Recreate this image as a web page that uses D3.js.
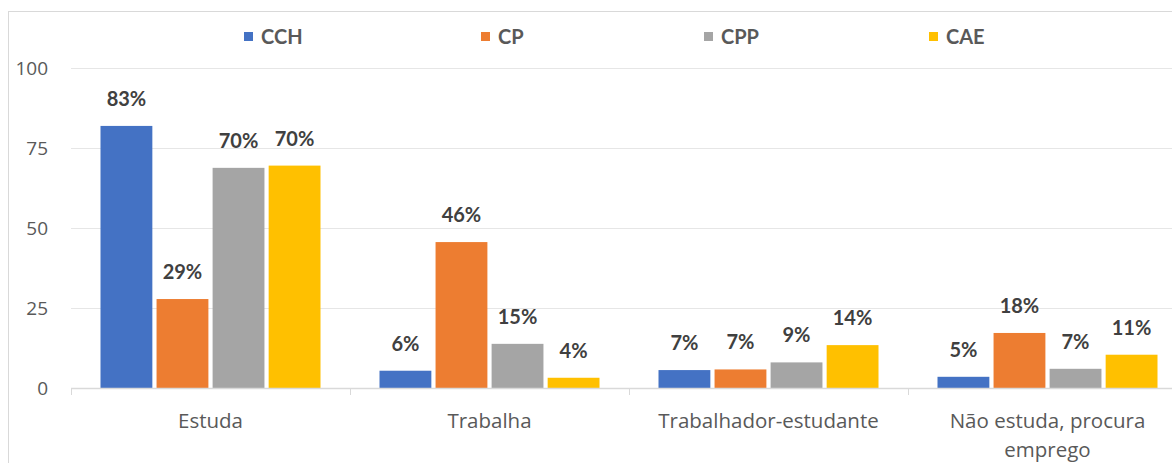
<!DOCTYPE html>
<html lang="pt">
<head>
<meta charset="UTF-8">
<title>Situação</title>
<script src="https://cdn.jsdelivr.net/npm/d3@7/dist/d3.min.js"></script>
<style>
  body { margin: 0; background: #fff; }
  svg { display: block; font-family: Lato, "Open Sans", sans-serif; }
</style>
</head>
<body>
<svg id="chart" width="1172" height="463"></svg>
<script>
// data
var categories = ["Estuda", "Trabalha", "Trabalhador-estudante", "Não estuda, procura emprego"];
var seriesNames = ["CCH", "CP", "CPP", "CAE"];
var colors = ["#4472C4", "#ED7D31", "#A5A5A5", "#FFC000"];
// bar heights per series (one value per category)
var cch = [81.9, 5.4, 5.6, 3.5];
var cp  = [27.8, 45.6, 5.8, 17.2];
var cpp = [68.8, 13.8, 8.0, 6.0];
var cae = [69.5, 3.2, 13.4, 10.4];
// printed labels
var cchLabels = ["83%", "6%", "7%", "5%"];
var cpLabels  = ["29%", "46%", "7%", "18%"];
var cppLabels = ["70%", "15%", "9%", "7%"];
var caeLabels = ["70%", "4%", "14%", "11%"];
var yTicks = [0, 25, 50, 75, 100];

var values = [cch, cp, cpp, cae];
var labels = [cchLabels, cpLabels, cppLabels, caeLabels];

var svg = d3.select("#chart");

// outer frame (runs off right/bottom edge)
svg.append("rect")
  .attr("x", 8.5).attr("y", 11.5)
  .attr("width", 1300).attr("height", 600)
  .attr("fill", "none").attr("stroke", "#d9d9d9");

var left = 71, band = 279;
var x0 = d3.scaleBand().domain(categories).range([left, left + band * categories.length]);
var x1 = d3.scaleBand().domain(seriesNames).range([29.5, 249.5]).paddingInner(0.075);
var y = d3.scaleLinear().domain([0, 100]).range([388, 68]);

// gridlines
svg.append("g").selectAll("line")
  .data(yTicks.filter(d => d > 0))
  .enter().append("line")
  .attr("x1", left).attr("x2", 1172)
  .attr("y1", d => y(d) + 0.5).attr("y2", d => y(d) + 0.5)
  .attr("stroke", "#e6e6e6");

// y labels
svg.append("g").selectAll("text")
  .data(yTicks)
  .enter().append("text")
  .attr("x", 48).attr("y", d => y(d) + 7)
  .attr("text-anchor", "end")
  .attr("font-family", "'Open Sans', sans-serif")
  .attr("font-size", 19)
  .attr("fill", "#595959")
  .text(d => d);

// bars
var rows = [];
categories.forEach(function(c, ci) {
  seriesNames.forEach(function(s, si) {
    rows.push({cat: c, s: s, si: si, v: values[si][ci], lab: labels[si][ci]});
  });
});

svg.append("g").selectAll("rect")
  .data(rows)
  .enter().append("rect")
  .attr("x", d => x0(d.cat) + x1(d.s))
  .attr("y", d => y(d.v))
  .attr("width", x1.bandwidth())
  .attr("height", d => y(0) - y(d.v))
  .attr("fill", d => colors[d.si]);

svg.append("g").selectAll("text")
  .data(rows)
  .enter().append("text")
  .attr("x", d => x0(d.cat) + x1(d.s) + x1.bandwidth() / 2)
  .attr("y", d => y(d.v) - 20)
  .attr("text-anchor", "middle")
  .attr("font-size", 20)
  .attr("font-weight", "bold")
  .attr("fill", "#404040")
  .text(d => d.lab);

// x axis
var xAxis = svg.append("g");
xAxis.append("line")
  .attr("x1", left).attr("x2", 1172)
  .attr("y1", y(0) + 0.5).attr("y2", y(0) + 0.5)
  .attr("stroke", "#d9d9d9").attr("stroke-width", 1.5);
xAxis.selectAll(".tk")
  .data(categories)
  .enter().append("line")
  .attr("x1", d => x0(d) + 0.5).attr("x2", d => x0(d) + 0.5)
  .attr("y1", y(0)).attr("y2", y(0) + 7)
  .attr("stroke", "#d9d9d9");

var catLines = [["Estuda"], ["Trabalha"], ["Trabalhador-estudante"], ["Não estuda, procura", "emprego"]];
xAxis.selectAll(".cl")
  .data(categories)
  .enter().append("text")
  .attr("x", d => x0(d) + band / 2)
  .attr("y", 428)
  .attr("text-anchor", "middle")
  .attr("font-family", "'Open Sans', sans-serif")
  .attr("font-size", 20.5)
  .attr("fill", "#595959")
  .each(function(d, i) {
    var t = d3.select(this);
    catLines[i].forEach(function(line, li) {
      t.append("tspan").attr("x", x0(d) + band / 2).attr("dy", li ? 29 : 0).text(line);
    });
  });

// legend
var legendX = [244, 481, 704, 929];
var lg = svg.append("g").selectAll("g")
  .data(seriesNames)
  .enter().append("g")
  .attr("transform", (d, i) => "translate(" + legendX[i] + ",32)");
lg.append("rect").attr("width", 9).attr("height", 9).attr("fill", (d, i) => colors[i]);
lg.append("text")
  .attr("x", 17).attr("y", 12)
  .attr("font-size", 20)
  .attr("font-weight", "bold")
  .attr("fill", "#595959")
  .text(d => d);
</script>
</body>
</html>
